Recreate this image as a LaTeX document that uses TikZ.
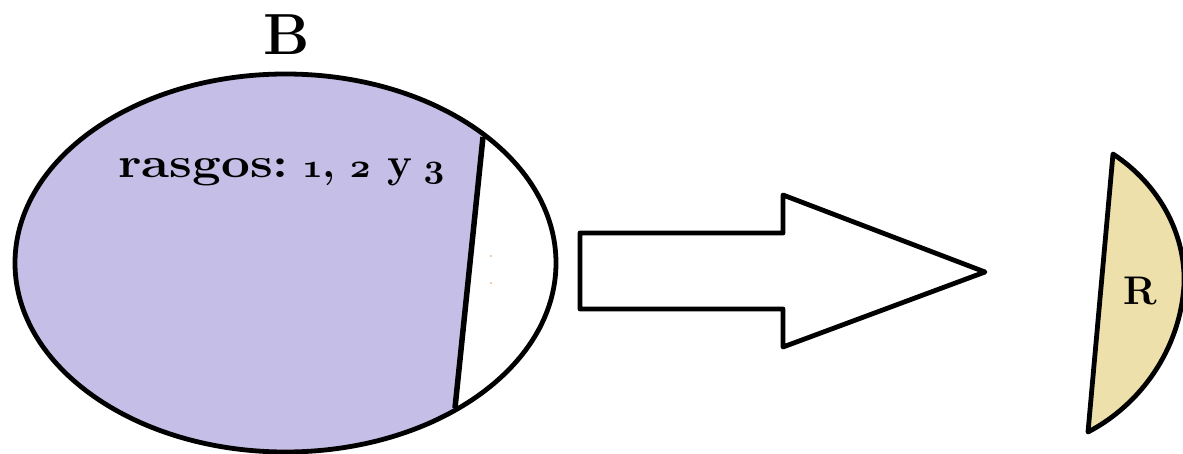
\documentclass[tikz,border=0pt]{standalone}
\definecolor{lav}{RGB}{197,190,230}
\definecolor{tan}{RGB}{237,224,170}
\definecolor{dotor}{RGB}{230,150,80}
\newcommand{\osnum}[1]{\scalebox{1.45}[1.35]{\usefont{OML}{cmm}{b}{it}#1}}
\tikzset{
  outl/.style={draw=black, line width=4.8pt, line join=round},
  lbl/.style={inner sep=0pt, text=black, font=\bfseries},
}
\begin{document}
\begin{tikzpicture}[x=1pt,y=-1pt]
\useasboundingbox (0,0) rectangle (1183,454);
% purple part of the ellipse
\begin{scope}
  \clip (285.5,263) ellipse [x radius=270.5, y radius=189];
  \fill[lav] (0,60) -- (491,60) -- (448.6,470) -- (0,470) -- cycle;
\end{scope}
\draw[outl] (285.5,263) ellipse [x radius=270.5, y radius=189];
\coordinate (ct) at (483,137);
\coordinate (cb) at (455,408);
\draw[outl, line width=5.5pt] (ct) -- (cb);
\fill[dotor] (491,256) circle (0.8);
\fill[dotor] (491,283) circle (0.8);
% labels
\node[lbl, font=\fontsize{58}{60}\selectfont\bfseries] (B) at (287,35) {B};
\node[lbl, font=\fontsize{42}{44}\selectfont\bfseries, anchor=base west] (ras) at (118,178)
  {\scalebox{1.22}[1]{rasgos:}\hspace{13pt}\osnum{1},\hspace{14pt}\osnum{2}\hspace{17pt}y\hspace{11pt}\osnum{3}};
% arrow
\draw[outl] (580,233) -- (783,233) -- (783,195) -- (985,272) -- (783,347) -- (783,309) -- (580,309) -- cycle;
% R segment
\coordinate (rt) at (1113,154);
\coordinate (rb) at (1088,432);
\filldraw[outl, fill=tan] (rt) .. controls (1160,185) and (1186,235) .. (1184,285)
  .. controls (1180,350) and (1140,405) .. (rb) -- cycle;
\node[lbl, font=\fontsize{40}{42}\selectfont\bfseries] (R) at (1140,291) {R};
\end{tikzpicture}
\end{document}
